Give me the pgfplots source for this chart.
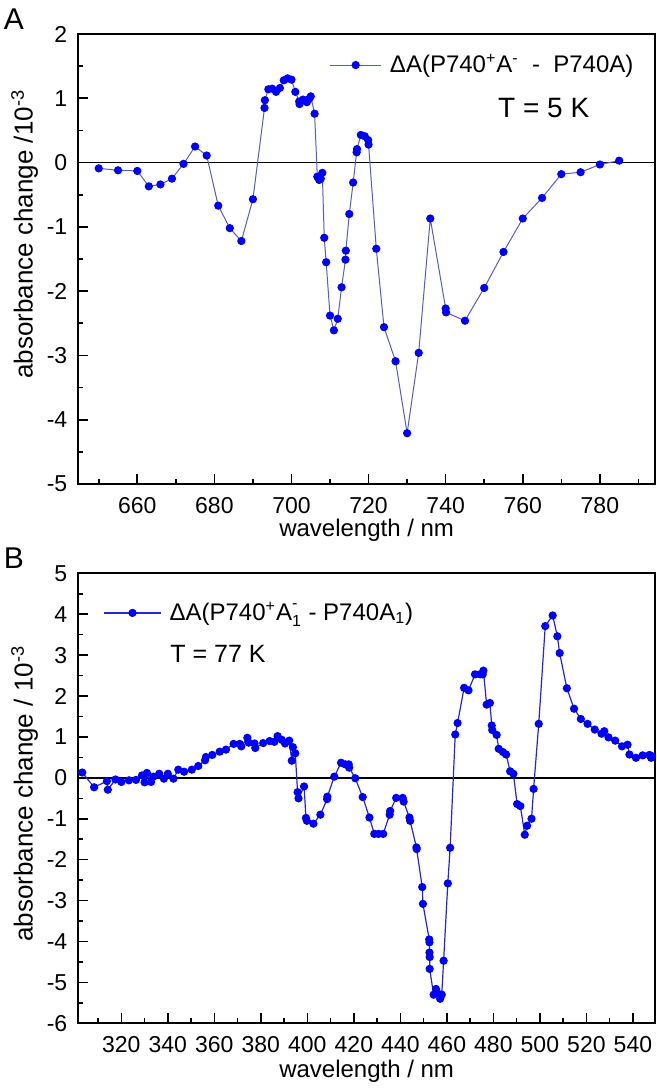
\documentclass[border=0pt]{standalone}
\usepackage{fontspec}
\setmainfont{Liberation Sans}
\usepackage{pgfplots}
\pgfplotsset{compat=1.18}

\definecolor{mk}{RGB}{0,0,255}
\definecolor{lnA}{RGB}{90,90,200}
\definecolor{lnB}{RGB}{35,35,225}

\pgfplotsset{
  spec/.style={
    scale only axis, width=288.35pt, height=225pt,
    axis line style={line width=0.9pt},
    tick align=inside, tick pos=left,
    major tick length=5pt, minor tick length=2.5pt,
    every tick/.append style={black, line width=0.8pt},
    /pgf/number format/assume math mode=true,
    ticklabel style={font=\fontsize{11.5}{13}\selectfont},
    xticklabel style={yshift=-3pt},
    yticklabel style={xshift=-2pt},
    xlabel style={font=\fontsize{12}{14}\selectfont, at={(axis description cs:0.5,0)}, anchor=center},
    ylabel style={font=\fontsize{13}{15}\selectfont, anchor=center},
    clip mode=individual,
    legend cell align=left,
  },
}

\begin{document}
\begin{tikzpicture}
\path[use as bounding box] (0,0) rectangle (328.5pt,-544pt);

% panel A, 5 K
\begin{axis}[spec, at={(39.15pt,-17pt)}, anchor=north west,
  xmin=644.7, xmax=794.3, ymin=-5, ymax=2,
  xtick={660,680,...,780}, minor xtick={650,670,...,790},
  ytick={-5,...,2}, minor ytick={-4.5,-3.5,...,1.5},
  xlabel={wavelength / nm},
  ylabel={absorbance change /10\textsuperscript{-3}},
  xlabel style={yshift=-23pt},
  ylabel style={at={(axis description cs:-0.093,0.555)}},
  legend style={at={(0.4347,0.931)}, anchor=west, draw=none, fill=none,
    inner sep=0pt, nodes={inner sep=1pt}, column sep=3pt,
    font=\fontsize{12}{14}\selectfont},
  legend image code/.code={\draw[#1, mark repeat=2, mark phase=2]
    plot coordinates {(0pt,0pt) (12.9pt,0pt) (25.8pt,0pt)};},
]
\addplot[black, line width=0.9pt, forget plot] coordinates {(644.7,0) (794.3,0)};
\addplot[color=lnA, line width=0.5pt, mark=*, mark size=1.8pt,
  mark options={draw=mk, fill=mk}] coordinates {
(650.0,-0.09) (655.0,-0.12) (660.0,-0.13) (663.0,-0.37) (666.0,-0.34)
(669.0,-0.25) (672.0,-0.02) (675.0,0.25) (678.0,0.11) (681.0,-0.67)
(684.0,-1.02) (687.0,-1.22) (690.0,-0.57) (693.0,0.85) (693.1,0.97)
(694.0,1.14) (695.0,1.15) (696.0,1.10) (697.0,1.16) (698.0,1.28)
(699.0,1.31) (700.0,1.29) (701.0,1.10) (702.0,0.95) (702.1,0.91)
(703.0,0.98) (704.0,0.94) (704.6,0.99) (705.0,1.03) (706.0,0.76)
(706.7,-0.22) (707.2,-0.27) (707.6,-0.25) (708.0,-0.16) (708.5,-1.17)
(709.0,-1.55) (710.0,-2.38) (711.0,-2.61) (712.0,-2.43) (713.0,-1.94)
(714.0,-1.51) (714.1,-1.37) (715.0,-0.80) (716.0,-0.31) (716.9,0.16)
(717.0,0.21) (718.0,0.43) (719.0,0.41) (719.9,0.35) (720.0,0.28)
(722.0,-1.34) (724.0,-2.56) (727.0,-3.09) (730.0,-4.21) (733.0,-2.96)
(736.0,-0.87) (740.0,-2.27) (740.1,-2.33) (745.0,-2.46) (750.0,-1.95)
(755.0,-1.39) (760.0,-0.87) (765.0,-0.55) (770.0,-0.18) (775.0,-0.15)
(780.0,-0.03) (785.0,0.03)
};
\addlegendentry{ΔA(P740\textsuperscript{+}A\textsuperscript{-}\ \ -\ \ P740A)}
\node[font=\fontsize{14}{16}\selectfont] at (rel axis cs:0.807,0.835) {T = 5 K};
\end{axis}

% panel B, 77 K
\begin{axis}[spec, at={(39.15pt,-286.65pt)}, anchor=north west,
  xmin=301.5, xmax=549.5, ymin=-6, ymax=5,
  xtick={320,340,...,540}, minor xtick={310,330,...,550},
  ytick={-6,...,5}, minor ytick={-5.5,-4.5,...,4.5},
  xlabel={wavelength / nm},
  ylabel={absorbance change / 10\textsuperscript{-3}},
  xlabel style={yshift=-24pt},
  ylabel style={at={(axis description cs:-0.093,0.51)}},
  legend style={at={(0.0428,0.912)}, anchor=west, draw=none, fill=none,
    inner sep=0pt, nodes={inner sep=1pt}, column sep=3pt,
    font=\fontsize{12}{14}\selectfont},
  legend image code/.code={\draw[#1, mark repeat=2, mark phase=2]
    plot coordinates {(0pt,0pt) (14.25pt,0pt) (28.5pt,0pt)};},
]
\addplot[black, line width=0.9pt, forget plot] coordinates {(301.5,0) (549.5,0)};
\addplot[color=lnB, line width=0.6pt, mark=*, mark size=1.75pt,
  mark options={draw=mk, fill=mk}] coordinates {
(303.2,0.13) (308.3,-0.23) (313.8,-0.08) (314.2,-0.29) (317.5,-0.04)
(320.0,-0.10) (323.3,-0.06) (326.3,-0.05) (328.9,0.06) (330.0,-0.11)
(331.0,0.12) (332.8,-0.10) (333.8,0.03) (336.3,0.10) (338.3,-0.02)
(340.0,0.10) (342.4,-0.02) (344.5,0.20) (347.0,0.15) (350.3,0.20)
(353.1,0.29) (356.0,0.43) (356.4,0.51) (359.1,0.56) (362.3,0.64)
(365.0,0.69) (368.3,0.83) (370.9,0.83) (371.6,0.77) (374.2,0.98)
(374.8,0.86) (377.3,0.84) (377.6,0.73) (381.0,0.85) (383.8,0.90)
(385.8,0.88) (387.2,1.02) (389.0,0.93) (390.4,0.84) (392.2,0.91)
(393.3,0.42) (393.8,0.75) (394.8,0.60) (395.8,-0.35) (396.2,-0.50)
(398.6,-0.21) (399.4,-0.98) (399.8,-1.05) (402.6,-1.12) (405.6,-0.90)
(408.5,-0.52) (408.6,-0.46) (411.6,0.03) (414.5,0.37) (416.3,0.33)
(417.8,0.33) (418.0,0.25) (420.6,-0.01) (423.8,-0.47) (426.7,-0.97)
(428.8,-1.37) (430.6,-1.37) (432.6,-1.37) (435.4,-0.90) (435.6,-0.81)
(438.2,-0.49) (441.0,-0.49) (441.4,-0.58) (443.9,-0.97) (444.2,-1.05)
(446.9,-1.70) (447.0,-1.74) (449.4,-2.67) (449.7,-3.08) (452.4,-3.95)
(452.5,-4.02) (452.5,-4.27) (452.6,-4.38) (452.6,-4.67) (454.3,-5.30)
(455.3,-5.16) (456.4,-5.28) (457.1,-5.40) (457.8,-5.30) (458.6,-4.47)
(460.4,-2.58) (461.4,-1.71) (463.6,1.06) (464.6,1.34) (467.4,2.20)
(469.3,2.14) (472.1,2.53) (474.3,2.53) (475.4,2.53) (475.7,2.62)
(477.1,1.79) (478.5,1.83) (479.3,1.28) (479.5,1.17) (481.4,1.05)
(482.3,0.71) (484.1,0.63) (485.5,0.57) (487.2,0.16) (488.6,0.10)
(490.2,-0.64) (491.6,-0.69) (493.5,-1.39) (494.5,-1.17) (496.4,-1.00)
(497.3,-0.27) (499.5,1.32) (502.3,3.71) (505.5,3.97) (507.5,3.46)
(508.5,3.05) (511.6,2.19) (514.7,1.69) (517.6,1.44) (520.5,1.32)
(523.6,1.18) (526.5,1.08) (527.7,1.14) (529.5,0.99) (532.4,0.91)
(535.3,0.77) (537.7,0.81) (538.5,0.57) (541.3,0.49) (544.2,0.55)
(547.1,0.56) (547.8,0.49) (548.2,0.53)
};
\addlegendentry{ΔA(P740\textsuperscript{+}A\rlap{\textsuperscript{\raisebox{0.35ex}{-}}}\textsubscript{\raisebox{-0.3ex}{1}} - P740A\textsubscript{1})}
\node[font=\fontsize{12.5}{15}\selectfont] at (rel axis cs:0.2424,0.8207) {T = 77 K};
\end{axis}

\node[font=\fontsize{15}{17}\selectfont] at (7pt,-9.5pt) {A};
\node[font=\fontsize{15}{17}\selectfont] at (7pt,-279pt) {B};
\end{tikzpicture}
\end{document}
